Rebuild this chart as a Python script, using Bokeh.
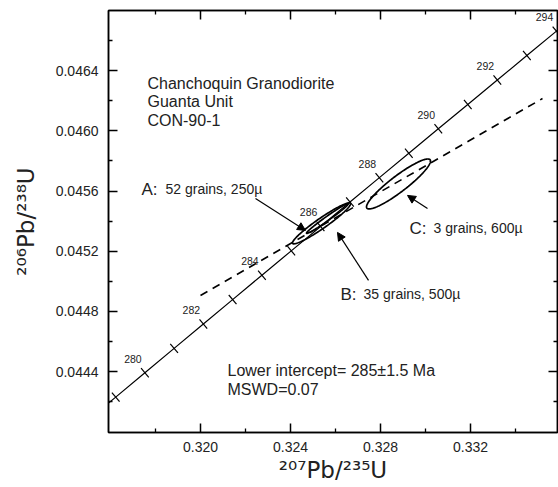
import numpy as np
from bokeh.plotting import figure
from bokeh.models import Range1d, LinearAxis, FixedTicker, Arrow, NormalHead
from bokeh.core.properties import value
from bokeh.embed import file_html
from bokeh.resources import INLINE

# ---------------- data ----------------
# U decay constants (per Ma) used for the concordia curve
LAMBDA_238 = 1.55125e-4
LAMBDA_235 = 9.8485e-4

curve_ages = [278, 279, 280, 281, 282, 283, 284, 285, 286, 287, 288, 289, 290, 291, 292, 293, 294, 295]
tick_ages = [279, 280, 281, 282, 283, 284, 285, 286, 287, 288, 289, 290, 291, 292, 293, 294]
label_ages = [280, 282, 284, 286, 288, 290, 292, 294]

# discordia (dashed regression line) end points
discordia_x = [0.3200, 0.3352]
discordia_y = [0.044906, 0.046215]

# error ellipses: centre, half extents, correlation
ellipse_names = ["A", "B", "C"]
ellipse_cx = [0.325644, 0.325378, 0.328800]
ellipse_cy = [0.045418, 0.045385, 0.045647]
ellipse_sx = [0.000933, 0.001289, 0.001422]
ellipse_sy = [0.0000997, 0.000136, 0.000166]
ellipse_rho = [0.985, 0.954, 0.917]

ellipse_letters = ["A:", "B:", "C:"]
ellipse_desc = ["52 grains, 250\u00b5", "35 grains, 500\u00b5", "3 grains, 600\u00b5"]

x_ticks = [0.320, 0.324, 0.328, 0.332]
x_tick_labels = ["0.320", "0.324", "0.328", "0.332"]
x_minor = [0.318, 0.322, 0.326, 0.330, 0.334]
y_ticks = [0.0444, 0.0448, 0.0452, 0.0456, 0.0460, 0.0464]
y_tick_labels = ["0.0444", "0.0448", "0.0452", "0.0456", "0.0460", "0.0464"]
y_minor = [0.0442, 0.0446, 0.0450, 0.0454, 0.0458, 0.0462, 0.0466]

title_lines = ["Chanchoquin Granodiorite", "Guanta Unit", "CON-90-1"]
result_lines = ["Lower intercept= 285\u00b11.5 Ma", "MSWD=0.07"]

# ---------------- layout ----------------
X0, X1 = 0.315911, 0.335867
Y0, Y1 = 0.043995, 0.046800
FW, FH = 449, 422
SX = FW / (X1 - X0)
SY = FH / (Y1 - Y0)

FONT = "Liberation Sans"

p = figure(width=558, height=487, output_backend="svg", toolbar_location=None,
           x_range=Range1d(X0, X1), y_range=Range1d(Y0, Y1),
           frame_width=FW, frame_height=FH,
           min_border_left=108, min_border_right=1, min_border_top=10, min_border_bottom=55,
           background_fill_color="white", border_fill_color="white")
p.grid.visible = False
p.outline_line_color = "black"
p.outline_line_width = 1.5


def style_axis(ax, ticks, minor, labels=None):
    ax.ticker = FixedTicker(ticks=ticks, minor_ticks=minor)
    ax.axis_line_color = "black"
    ax.axis_line_width = 1.5
    ax.major_tick_line_color = "black"
    ax.major_tick_line_width = 1.5
    ax.minor_tick_line_color = "black"
    ax.minor_tick_line_width = 1.3
    ax.major_tick_in = 9
    ax.major_tick_out = 0
    ax.minor_tick_in = 4
    ax.minor_tick_out = 0
    if labels is None:
        ax.major_label_overrides = {t: "" for t in ticks}
        ax.major_label_standoff = 0
    else:
        ax.major_label_overrides = {t: l for t, l in zip(ticks, labels)}
        ax.major_label_text_font = FONT
        ax.major_label_text_font_size = "14px"
        ax.major_label_text_color = "#222222"


xa = p.xaxis[0]
ya = p.yaxis[0]
style_axis(xa, x_ticks, x_minor, x_tick_labels)
style_axis(ya, y_ticks, y_minor, y_tick_labels)
xa.major_label_standoff = 9
ya.major_label_standoff = 10
xa.axis_label = "\u00b2\u2070\u2077Pb/\u00b2\u00b3\u2075U"
ya.axis_label = "\u00b2\u2070\u2076Pb/\u00b2\u00b3\u2078U"
for ax in (xa, ya):
    ax.axis_label_text_font = "DejaVu Sans"
    ax.axis_label_text_font_size = "23px"
    ax.axis_label_text_font_style = "normal"
    ax.axis_label_text_color = "#222222"
xa.axis_label_standoff = 2
ya.axis_label_standoff = 14

top = LinearAxis()
style_axis(top, x_ticks, x_minor)
p.add_layout(top, "above")
right = LinearAxis()
style_axis(right, y_ticks, y_minor)
p.add_layout(right, "right")


def concordia(t):
    t = np.asarray(t, dtype=float)
    return np.exp(LAMBDA_235 * t) - 1.0, np.exp(LAMBDA_238 * t) - 1.0


# concordia curve
cx, cy = concordia(curve_ages)
p.line(cx, cy, line_color="black", line_width=1.2)

# concordia age ticks (perpendicular in screen space)
tx, ty = concordia(tick_ages)
ta = np.asarray(tick_ages, dtype=float)
dxp = LAMBDA_235 * np.exp(LAMBDA_235 * ta) * SX
dyp = LAMBDA_238 * np.exp(LAMBDA_238 * ta) * SY
nrm = np.hypot(dxp, dyp)
nx, ny = -dyp / nrm, dxp / nrm
half = 6.0
p.segment(tx - half * nx / SX, ty - half * ny / SY, tx + half * nx / SX, ty + half * ny / SY,
          line_color="black", line_width=1.2)

# age labels
lx, ly = concordia(label_ages)
p.text(lx, ly, text=[str(a) for a in label_ages], x_offset=-12, y_offset=-14,
       text_align="center", text_baseline="middle", text_font=value(FONT),
       text_font_size="10.5px", text_color="#222222")

# discordia
p.line(discordia_x, discordia_y, line_color="black", line_width=1.6, line_dash="8 6")

# error ellipses
theta = np.linspace(0, 2 * np.pi, 181)
for i in range(len(ellipse_names)):
    r = ellipse_rho[i]
    ex = ellipse_cx[i] + ellipse_sx[i] * np.cos(theta)
    ey = ellipse_cy[i] + ellipse_sy[i] * (r * np.cos(theta) + np.sqrt(1 - r * r) * np.sin(theta))
    p.line(ex, ey, line_color="black", line_width=1.7)

# ellipse annotations
letter_x = [0.317378, 0.326222, 0.329289]
desc_x = [0.318444, 0.327244, 0.330356]
ann_y = [0.045611, 0.044913, 0.045351]
p.text(letter_x, ann_y, text=ellipse_letters, text_align="left", text_baseline="alphabetic",
       text_font=value(FONT), text_font_size="17px", text_color="#222222")
p.text(desc_x, ann_y, text=ellipse_desc, text_align="left", text_baseline="alphabetic",
       text_font=value(FONT), text_font_size="14px", text_color="#222222")

arrow_x0 = [0.322444, 0.327467, 0.330089]
arrow_y0 = [0.045551, 0.045006, 0.045484]
arrow_x1 = [0.324667, 0.326089, 0.329200]
arrow_y1 = [0.045338, 0.045325, 0.045571]
for i in range(3):
    p.add_layout(Arrow(end=NormalHead(size=8, fill_color="black", line_color="black", line_width=1),
                       x_start=arrow_x0[i], y_start=arrow_y0[i],
                       x_end=arrow_x1[i], y_end=arrow_y1[i],
                       line_color="black", line_width=1.2))

# sample description
p.text([0.317644] * 3, [0.046315, 0.046192, 0.046069], text=title_lines,
       text_align="left", text_baseline="alphabetic", text_font=value(FONT),
       text_font_size="16px", text_color="#222222")
p.text([0.321200] * 2, [0.044408, 0.044282], text=result_lines,
       text_align="left", text_baseline="alphabetic", text_font=value(FONT),
       text_font_size="16px", text_color="#222222")

open("out.html", "w").write(file_html(p, INLINE))
